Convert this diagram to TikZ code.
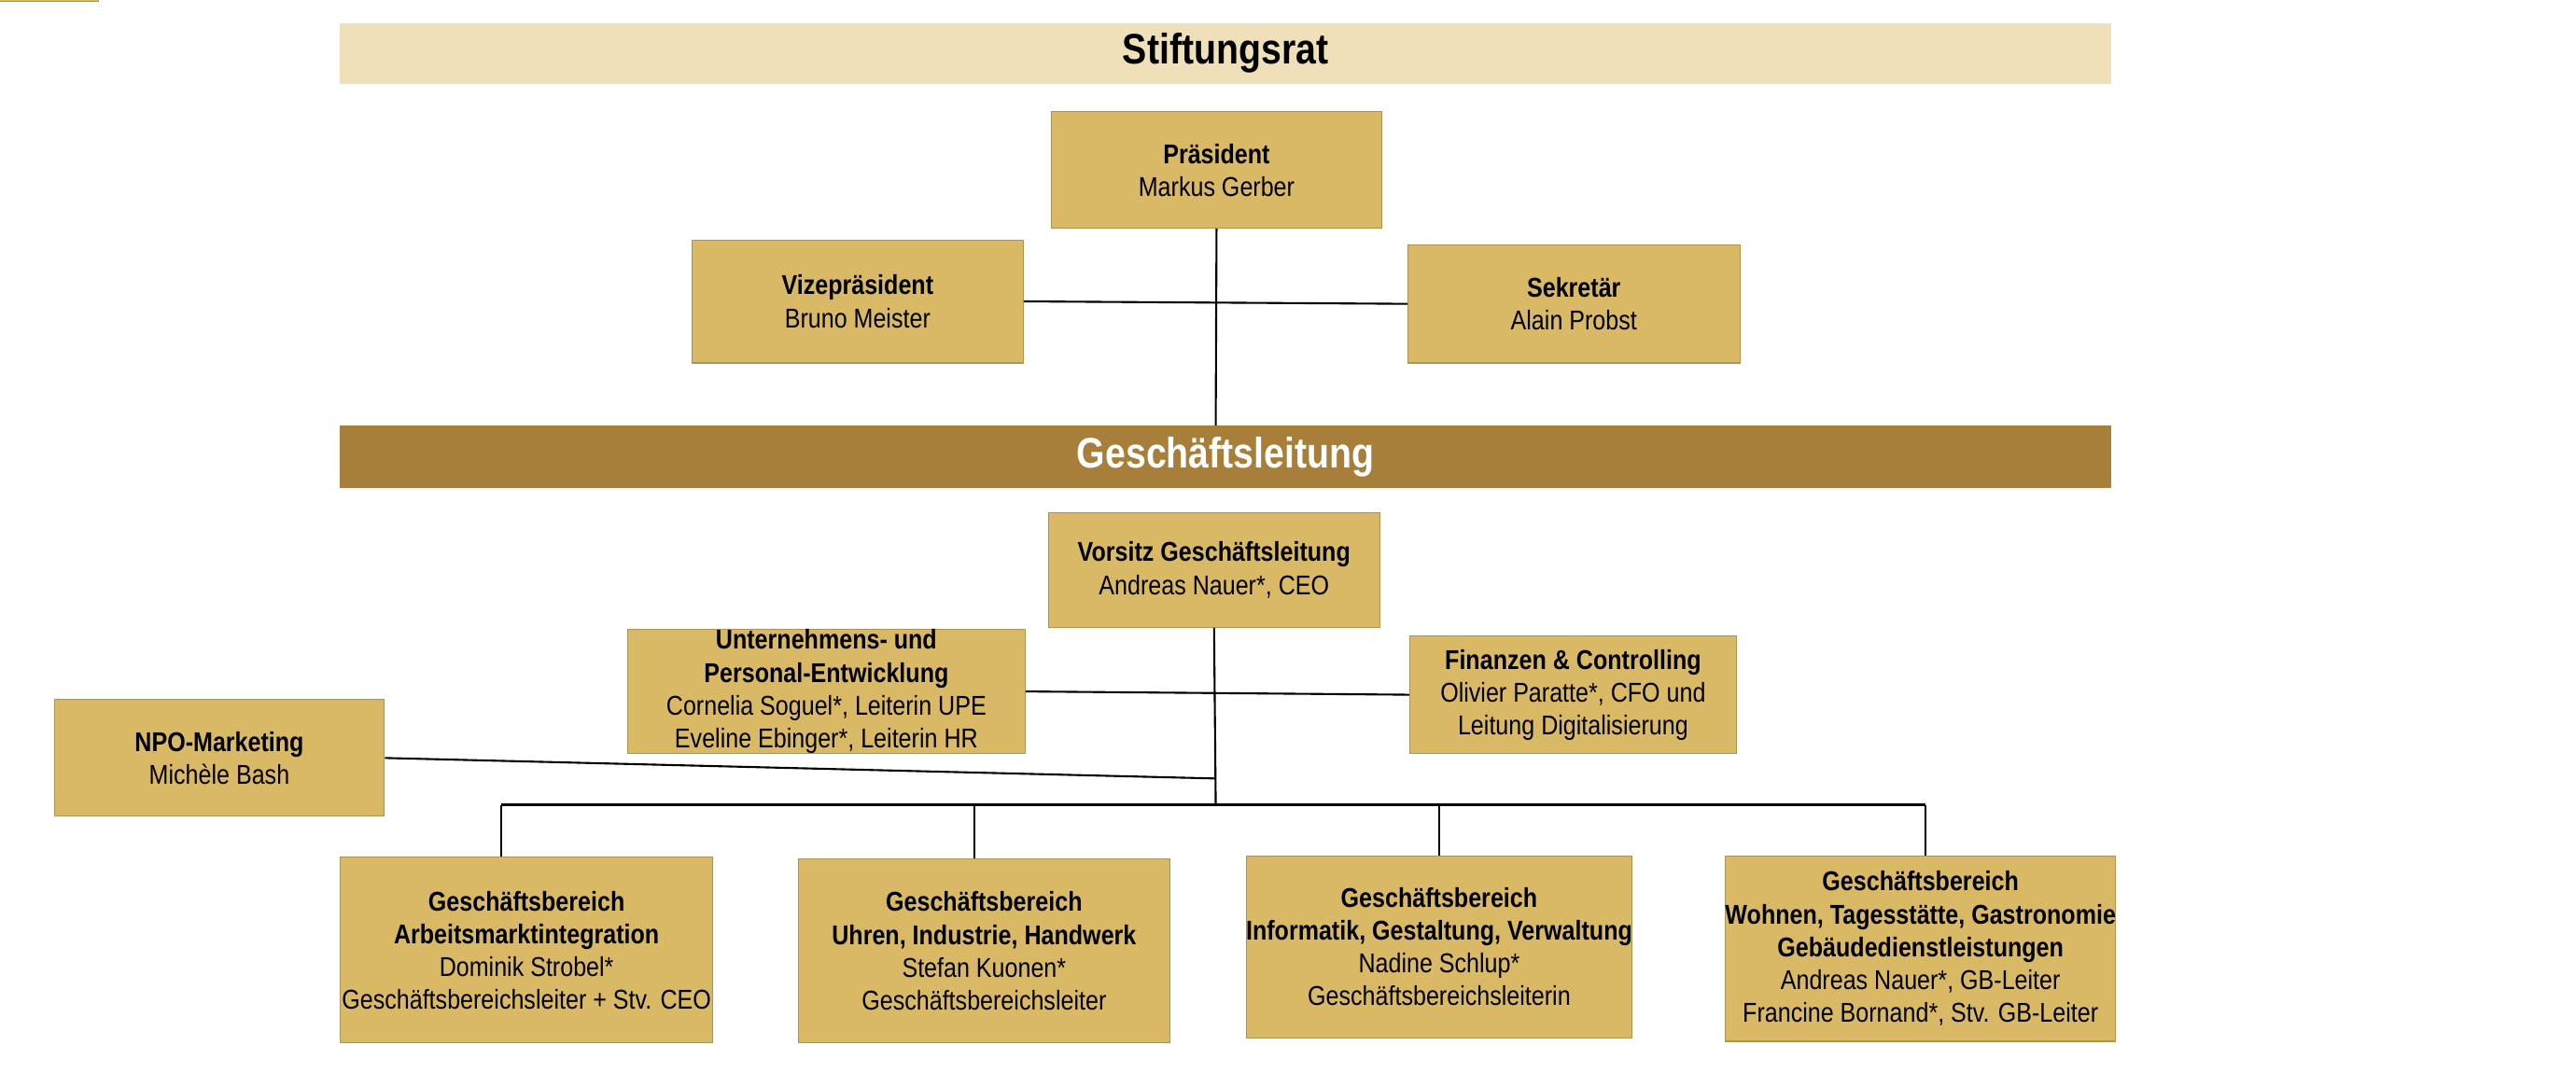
\documentclass[tikz,border=0pt]{standalone}
\usepackage{fontspec}
\setmainfont[FakeStretch=0.86]{Liberation Sans}
\definecolor{boxc}{HTML}{D9B965}
\definecolor{barlight}{HTML}{F0E0BA}
\definecolor{bardark}{HTML}{A77F3A}
\begin{document}
\begin{tikzpicture}[x=0.017602cm,y=-0.017602cm,
  box/.style={fill=boxc,draw=boxc!80!black,line width=0.3pt,align=center,font=\fontsize{8.3}{10}\selectfont,inner sep=0pt},
  conn/.style={draw=black,line width=0.6pt}]
\useasboundingbox (0,0) rectangle (1568,653);
\fill[barlight] (207,14) rectangle (1285,51);
\node[font=\fontsize{13}{15}\selectfont\bfseries] (sr) at (746,32) {Stiftungsrat};
% connectors
\coordinate (c1) at (740,184);
\coordinate (c2) at (740,259);
\coordinate (c3) at (740,422);
\coordinate (c4) at (740,474);
\coordinate (c5) at (740,490);
\coordinate (b1) at (305,490);
\coordinate (b4) at (1172,490);
\coordinate (b2) at (593,490);
\coordinate (b3) at (876,490);
\node[box,minimum width=201\pgflinewidth] at (0,0) {};
\path (640,68) rectangle (841,139);
\node[box,minimum width=3.538cm,minimum height=1.25cm] (pr) at (740.5,103.5) {\textbf{Präsident}\\Markus Gerber};
\node[box,minimum width=3.556cm,minimum height=1.32cm] (vp) at (522,183.5) {\textbf{Vizepräsident}\\Bruno Meister};
\node[box,minimum width=3.556cm,minimum height=1.267cm] (se) at (958,185) {\textbf{Sekretär}\\Alain Probst};
\node[box,minimum width=3.556cm,minimum height=1.232cm] (vo) at (739,347) {\textbf{Vorsitz Geschäftsleitung}\\Andreas Nauer*, CEO};
\node[box,minimum width=4.26cm,minimum height=1.30cm] (ue) at (503,421) {\textbf{Unternehmens- und}\\\textbf{Personal-Entwicklung}\\Cornelia Soguel*, Leiterin UPE\\Eveline Ebinger*, Leiterin HR};
\node[box,minimum width=3.50cm,minimum height=1.267cm] (fi) at (957.5,423) {\textbf{Finanzen \& Controlling}\\Olivier Paratte*, CFO und\\Leitung Digitalisierung};
\node[box,minimum width=3.538cm,minimum height=1.25cm] (npo) at (133.5,461.5) {\textbf{NPO-Marketing}\\Michèle Bash};
\node[box,minimum width=3.996cm,minimum height=1.99cm] (g1) at (320.5,578.5) {\textbf{Geschäftsbereich}\\\textbf{Arbeitsmarktintegration}\\Dominik Strobel*\\Geschäftsbereichsleiter + Stv. CEO};
\node[box,minimum width=3.978cm,minimum height=1.97cm] (g2) at (599,579) {\textbf{Geschäftsbereich}\\\textbf{Uhren, Industrie, Handwerk}\\Stefan Kuonen*\\Geschäftsbereichsleiter};
\node[box,minimum width=4.013cm,minimum height=1.954cm] (g3) at (876,576.5) {\textbf{Geschäftsbereich}\\\textbf{Informatik, Gestaltung, Verwaltung}\\Nadine Schlup*\\Geschäftsbereichsleiterin};
\node[box,minimum width=4.084cm,minimum height=1.99cm] (g4) at (1169,577.5) {\textbf{Geschäftsbereich}\\\textbf{Wohnen, Tagesstätte, Gastronomie}\\\textbf{Gebäudedienstleistungen}\\Andreas Nauer*, GB-Leiter\\Francine Bornand*, Stv. GB-Leiter};
\begin{scope}[on background layer/.style={}]
\draw[conn] (pr.south) -- (c2);
\draw[conn] (vp.east) -- (se.west);
\draw[conn] (vo.south) -- (c5);
\draw[conn] (ue.east) -- (fi.west);
\draw[conn] (npo.east) -- (c4);
\draw[conn] (b1) -- (b4);
\draw[conn] (b1) -- (b1|-g1.north);
\draw[conn] (b2) -- (b2|-g2.north);
\draw[conn] (b3) -- (b3|-g3.north);
\draw[conn] (b4) -- (b4|-g4.north);
\end{scope}
\fill[bardark] (207,259) rectangle (1285,297);
\node[font=\fontsize{13}{15}\selectfont\bfseries,text=white] (gl) at (746,278) {Geschäftsleitung};
\end{tikzpicture}
\end{document}
